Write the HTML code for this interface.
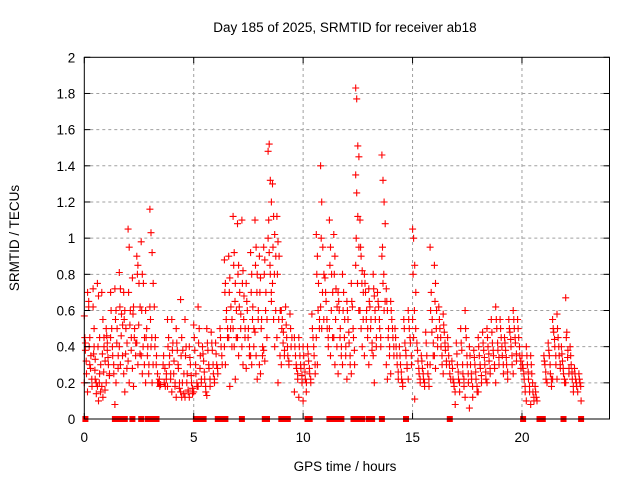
<!DOCTYPE html>
<html><head><meta charset="utf-8"><style>
body{margin:0;background:#fff;}
svg{display:block;font-family:"Liberation Sans",sans-serif;}
</style></head><body>
<svg id="chart" width="640" height="480">
<text x="345" y="32" text-anchor="middle" font-size="13.5">Day 185 of 2025, SRMTID for receiver ab18</text>
<text transform="translate(19,238) rotate(-90)" text-anchor="middle" font-size="13.5">SRMTID / TECUs</text>
<text x="345" y="471" text-anchor="middle" font-size="13.5">GPS time / hours</text>
<g id="grid"></g><g id="marks"></g><g id="axes"></g>
</svg>
<script>
const xTicks=[0,5,10,15,20];
const yTicks=[0,0.2,0.4,0.6,0.8,1,1.2,1.4,1.6,1.8,2];
const yTickLabels=["0","0.2","0.4","0.6","0.8","1","1.2","1.4","1.6","1.8","2"];
const binHours=[0,0.2,0.4,0.6,0.8,1.0,1.2,1.4,1.6,1.8,2.0,2.2,2.4,2.6,2.8,3.0,3.2,3.4,3.6,3.8,4.0,4.2,4.4,4.6,4.8,5.0,5.2,5.4,5.6,5.8,6.0,6.2,6.4,6.6,6.8,7.0,7.2,7.4,7.6,7.8,8.0,8.2,8.4,8.6,8.8,9.0,9.2,9.4,9.6,9.8,10.0,10.2,10.4,10.6,10.8,11.0,11.2,11.4,11.6,11.8,12.0,12.2,12.4,12.6,12.8,13.0,13.2,13.4,13.6,13.8,14.0,14.2,14.4,14.6,14.8,15.0,15.2,15.4,15.6,15.8,16.0,16.2,16.4,16.6,16.8,17.0,17.2,17.4,17.6,17.8,18.0,18.2,18.4,18.6,18.8,19.0,19.2,19.4,19.6,19.8,20.0,20.2,20.4,20.6,21.0,21.2,21.4,21.6,21.8,22.0,22.2,22.4,22.6];
const binValues=[
[0.57,0.42,0.25,0.7,0.2,0.38],[0.65,0.45,0.35,0.18,0.62,0.3],[0.72,0.4,0.22,0.14,0.62,0.5,0.33],[0.75,0.68,0.45,0.3,0.18,0.1,0.25],[0.7,0.55,0.45,0.32,0.18,0.12,0.4],
[0.5,0.42,0.3,0.25,0.2,0.38],[0.7,0.5,0.35,0.25,0.45],[0.72,0.6,0.5,0.35,0.08,0.2],[0.81,0.72,0.58,0.52,0.4,0.3],[0.7,0.6,0.5,0.42,0.25,0.15],
[1.05,0.95,0.6,0.45,0.32,0.2],[0.78,0.62,0.5,0.42,0.28,0.18],[0.9,0.85,0.75,0.62,0.42,0.3],[0.98,0.8,0.75,0.45,0.35,0.25],[0.6,0.5,0.4,0.3,0.2],
[1.16,1.03,0.92,0.75,0.62,0.4,0.2],[0.62,0.45,0.35,0.2],[0.2,0.18],[0.3,0.2,0.18,0.25],[0.55,0.45,0.35,0.25,0.18],
[0.55,0.42,0.32,0.2,0.15],[0.5,0.38,0.28,0.2,0.12],[0.66,0.45,0.38,0.25,0.15,0.12],[0.55,0.4,0.25,0.15,0.12],[0.4,0.3,0.2,0.14,0.12],
[0.52,0.38,0.25,0.18,0.15],[0.62,0.5,0.35,0.22,0.18],[0.4,0.32,0.22,0.15],[0.5,0.38,0.28,0.18,0.13],[0.48,0.38,0.25,0.2],
[0.42,0.3,0.25],[0.5,0.4,0.3],[0.88,0.75,0.6,0.5,0.4,0.3],[0.9,0.78,0.62,0.55,0.45,0.18],[1.12,0.92,0.75,0.6,0.5,0.4,0.22],
[1.08,0.85,0.7,0.58,0.45,0.35],[1.1,0.82,0.68,0.5,0.4,0.3],[0.75,0.6,0.5,0.4,0.28],[0.92,0.8,0.62,0.5,0.35,0.3],[1.1,0.95,0.8,0.6,0.48,0.35,0.22],
[0.9,0.78,0.55,0.4,0.3,0.25],[0.95,0.88,0.7,0.55,0.38,0.32],[1.48,1.52,1.32,1.2,1.0,0.92,0.8,0.65],[1.3,1.12,1.02,0.9,0.75,0.55,0.4],[1.12,0.98,0.9,0.6,0.45,0.2],
[0.6,0.55,0.48,0.38,0.3],[0.62,0.45,0.35,0.3],[0.58,0.4],[0.45,0.35,0.28,0.22,0.15],[0.45,0.35,0.28,0.2,0.12],
[0.4,0.3,0.22,0.2,0.1],[0.4,0.32,0.25,0.2],[0.58,0.45,0.35,0.25],[1.02,0.9,0.75,0.55,0.45,0.3],[1.4,1.2,0.95,0.8,0.62,0.5],
[0.78,0.65,0.5,0.4],[1.1,0.95,0.8,0.7,0.5,0.35],[1.02,0.9,0.72,0.62,0.45,0.3],[0.7,0.6,0.5,0.4,0.25],[0.8,0.7,0.55,0.4,0.3],
[0.65,0.55,0.42,0.3,0.22],[0.75,0.62,0.45,0.3,0.25],[1.83,1.77,1.51,1.45,1.35,1.25,1.12,0.95,0.85],[1.1,0.9,0.82,0.7,0.6,0.5,0.4],[0.8,0.7,0.6,0.5,0.35],
[0.72,0.62,0.55,0.42,0.3],[0.8,0.68,0.55,0.45,0.35,0.2],[0.7,0.62,0.5,0.4],[1.46,1.32,1.2,1.08,0.9,0.75,0.6],[0.72,0.6,0.5,0.4,0.3,0.22],
[0.65,0.55,0.45,0.35,0.25],[0.5,0.4,0.3,0.22],[0.4,0.3,0.22,0.18],[0.55,0.42,0.35,0.28],[0.6,0.5,0.42,0.3,0.22],
[1.05,1.0,0.85,0.7,0.55,0.45,0.11],[0.42,0.32,0.25,0.2],[0.35,0.28,0.22,0.18],[0.48,0.35,0.25,0.18],[0.95,0.7,0.55,0.42,0.3],
[0.85,0.75,0.6,0.45,0.35,0.28],[0.62,0.5,0.4,0.3],[0.58,0.48,0.38,0.3,0.25],[0.45,0.35,0.25],[0.32,0.22,0.18,0.08],
[0.42,0.3,0.22,0.15],[0.5,0.38,0.25,0.18],[0.6,0.45,0.3,0.2,0.12],[0.4,0.3,0.22,0.12,0.06],[0.38,0.3,0.22,0.15],
[0.45,0.35,0.28,0.2,0.15],[0.48,0.38,0.3,0.22],[0.5,0.4,0.32,0.25,0.2],[0.55,0.42,0.35,0.28],[0.62,0.5,0.38,0.3,0.2],
[0.55,0.45,0.35,0.25],[0.45,0.38,0.3,0.22],[0.55,0.48,0.4,0.3],[0.6,0.5,0.42,0.32,0.25],[0.55,0.45,0.35,0.28],
[0.35,0.28,0.22,0.15],[0.4,0.3,0.22,0.15,0.1],[0.35,0.25,0.15,0.1,0.08],[0.18,0.12],[0.35,0.3,0.22],
[0.42,0.35,0.25,0.18],[0.55,0.48,0.4,0.3,0.22],[0.58,0.45,0.35,0.28,0.22],[0.4,0.32,0.25,0.2],[0.67,0.48,0.38,0.28,0.2],
[0.4,0.3,0.22,0.15],[0.28,0.22,0.18],[0.25,0.2,0.1]];
// second receiver-satellite band (dense lower cloud)
const binValuesB=[
[0.45,0.32,0.15],[0.4,0.28,0.22],[0.36,0.27,0.2],[0.4,0.2,0.15],[0.36,0.26,0.16],
[0.46,0.34,0.24],[0.6,0.4,0.3],[0.55,0.42,0.28],[0.62,0.46,0.35],[0.55,0.36,0.28],
[0.7,0.52,0.38],[0.58,0.45,0.35],[0.8,0.52,0.36],[0.6,0.4,0.3],[0.45,0.35,0.25],
[0.55,0.45,0.3],[0.4,0.3,0.25],[0.22,0.19],[0.35,0.28,0.22],[0.4,0.3,0.22],
[0.38,0.25,0.18],[0.42,0.3,0.17],[0.35,0.2,0.14],[0.35,0.2,0.16],[0.34,0.24,0.17],
[0.45,0.3,0.2],[0.42,0.28,0.2],[0.36,0.26,0.18],[0.42,0.3,0.22],[0.42,0.3,0.22],
[0.36,0.28],[0.45,0.35],[0.7,0.55,0.45],[0.7,0.5,0.4],[0.85,0.65,0.45],
[0.8,0.62,0.5],[0.75,0.55,0.45],[0.65,0.45,0.35],[0.7,0.55,0.4],[0.85,0.7,0.55],
[0.7,0.5,0.35],[0.8,0.6,0.45],[1.1,0.85,0.7],[0.95,0.8,0.6],[0.8,0.55,0.35],
[0.5,0.42,0.35],[0.52,0.4,0.32],[0.5,0.45],[0.4,0.3,0.25],[0.4,0.3,0.24],
[0.35,0.26,0.15],[0.36,0.28,0.22],[0.5,0.4,0.3],[0.8,0.6,0.5],[1.0,0.7,0.55],
[0.7,0.55,0.45],[0.85,0.6,0.45],[0.8,0.55,0.4],[0.65,0.45,0.35],[0.6,0.45,0.35],
[0.6,0.48,0.35],[0.65,0.5,0.38],[1.0,0.75,0.6],[0.95,0.75,0.55],[0.75,0.55,0.45],
[0.65,0.5,0.38],[0.72,0.6,0.4],[0.65,0.55,0.45],[0.95,0.8,0.65],[0.65,0.45,0.35],
[0.6,0.5,0.4],[0.45,0.35,0.26],[0.35,0.26,0.2],[0.5,0.38,0.3],[0.55,0.45,0.35],
[0.8,0.6,0.5],[0.38,0.28,0.22],[0.32,0.25,0.2],[0.42,0.3,0.22],[0.6,0.48,0.35],
[0.65,0.5,0.4],[0.55,0.45,0.35],[0.52,0.42,0.32],[0.4,0.3,0.22],[0.28,0.2,0.15],
[0.36,0.26,0.2],[0.42,0.3,0.22],[0.5,0.35,0.25],[0.35,0.25,0.18],[0.34,0.26,0.18],
[0.4,0.3,0.24],[0.42,0.34,0.26],[0.45,0.36,0.28],[0.48,0.38,0.3],[0.55,0.42,0.34],
[0.5,0.4,0.3],[0.42,0.34,0.26],[0.5,0.44,0.35],[0.55,0.45,0.36],[0.5,0.4,0.32],
[0.3,0.25,0.18],[0.35,0.26,0.18],[0.3,0.2,0.12],[0.15,0.1],[0.32,0.26,0.2],
[0.38,0.3,0.22],[0.5,0.44,0.35],[0.5,0.4,0.3],[0.36,0.28,0.22],[0.45,0.34,0.25],
[0.35,0.26,0.18],[0.25,0.2,0.15],[0.22,0.18]];
const zeroHours=[0.05,1.4,1.6,1.85,2.2,2.6,2.9,3.1,3.3,5.1,5.3,5.45,6.1,6.3,6.45,7.2,8.25,8.35,9.0,9.15,9.3,10.2,10.3,11.2,11.35,11.6,11.75,12.3,12.45,12.7,13.0,13.15,13.6,14.7,16.7,20.05,20.8,20.95,21.9,22.7];

const NS="http://www.w3.org/2000/svg";
const X0=84.3,X1=609.5,Y0=419,Y1=57.3,XMAX=24,YMAX=2;
function xs(h){return X0+(X1-X0)*h/XMAX;}
function ys(v){return Y0-(Y0-Y1)*v/YMAX;}
function mk(tag,attrs,parent){const e=document.createElementNS(NS,tag);for(const k in attrs)e.setAttribute(k,attrs[k]);parent.appendChild(e);return e;}
const grid=document.getElementById('grid'),marks=document.getElementById('marks'),axes=document.getElementById('axes');
yTicks.forEach((v,i)=>{
  if(i>0&&i<yTicks.length-1){const g=mk('line',{x1:X0,x2:X1,y1:ys(v),y2:ys(v),stroke:'#a0a0a0','stroke-dasharray':'3,3'},grid);
  
  }
  const t=mk('text',{x:X0-9,y:ys(v)+5,'text-anchor':'end','font-size':'13.5'},axes);t.textContent=yTickLabels[i];
  
  
  mk('line',{x1:X0,x2:X0+6,y1:ys(v),y2:ys(v),stroke:'#000'},axes);
  mk('line',{x1:X1,x2:X1-6,y1:ys(v),y2:ys(v),stroke:'#000'},axes);
});
xTicks.forEach(h=>{
  if(h>0){const g=mk('line',{x1:xs(h),x2:xs(h),y1:Y0,y2:Y1,stroke:'#a0a0a0','stroke-dasharray':'3,3'},grid);
  
  }
  const t=mk('text',{x:xs(h),y:Y0+23,'text-anchor':'middle','font-size':'13.5'},axes);t.textContent=String(h);
  
  
  mk('line',{x1:xs(h),x2:xs(h),y1:Y0,y2:Y0-6,stroke:'#000'},axes);
  mk('line',{x1:xs(h),x2:xs(h),y1:Y1,y2:Y1+6,stroke:'#000'},axes);
});
const frame=mk('rect',{x:X0,y:Y1,width:X1-X0,height:Y0-Y1,fill:'none',stroke:'#000'},axes);


function plus(x,y){return `M${(x-3.5).toFixed(1)} ${y.toFixed(1)}h7M${x.toFixed(1)} ${(y-3.5).toFixed(1)}v7`;}
let d='';
binHours.forEach((h,b)=>{
  binValues[b].forEach((v,i)=>{d+=plus(xs(h+(i%4)*0.05),ys(v));});
  (binValuesB[b]||[]).forEach((v,i)=>{d+=plus(xs(h+0.025+(i%3)*0.06),ys(v));});
});
const p=mk('path',{d:d,stroke:'#ff0000','stroke-width':'1.1',fill:'none'},marks);


let dz='';
zeroHours.forEach(h=>{const x=xs(h),y=ys(0);dz+=`M${(x-3).toFixed(1)} ${y-3}h6v6h-6z`;});
const z=mk('path',{d:dz,fill:'#ff0000',stroke:'none'},marks);


</script>
</body></html>
